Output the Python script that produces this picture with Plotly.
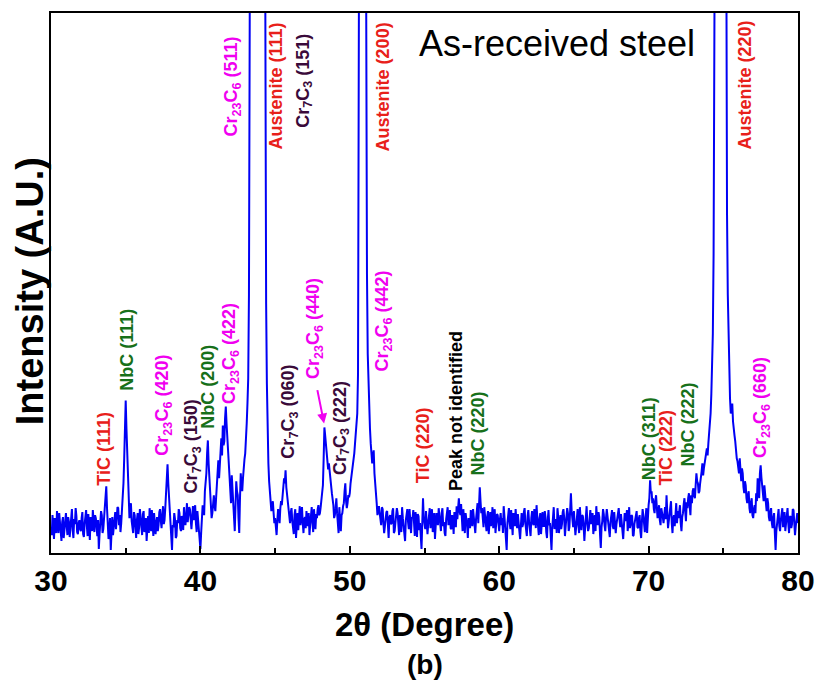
import plotly.graph_objects as go

# ---------------- data ----------------
two_theta_start = 30.0
two_theta_step = 0.05

# intensity in arbitrary units, one value per 0.05 degree (one row = one degree)
i_30_40 = [25, 18, 38, 27, 14, 35, 30, 20, 42, 29, 20, 40, 33, 22, 12, 31, 36, 15, 24, 39,
           40, 27, 18, 36, 31, 16, 26, 41, 44, 23, 15, 34, 29, 45, 37, 21, 19, 30, 33, 24,
           22, 35, 41, 19, 16, 29, 34, 43, 27, 17, 39, 26, 13, 36, 30, 22, 43, 31, 21, 38,
           35, 26, 17, 33, 4, 19, 28, 42, 38, 20, 24, 34, 40, 50, 67, 45, 30, 14, 22, 35,
           3, 25, 36, 18, 27, 39, 41, 24, 33, 46, 45, 28, 38, 21, 30, 40, 52, 70, 95, 130,
           153, 125, 98, 72, 58, 35, 44, 50, 32, 24, 20, 41, 38, 27, 15, 33, 40, 19, 26, 44,
           34, 25, 18, 39, 42, 21, 28, 35, 12, 30, 37, 20, 45, 32, 22, 43, 31, 17, 40, 29,
           19, 30, 36, 22, 28, 41, 44, 32, 25, 38, 47, 29, 33, 45, 62, 78, 89, 70, 55, 42,
           38, 20, 3, 28, 26, 40, 34, 15, 17, 33, 30, 44, 40, 25, 22, 37, 35, 23, 46, 31,
           28, 39, 50, 31, 36, 46, 44, 27, 24, 35, 47, 33, 38, 48, 30, 21, 42, 30, 22, 12]
i_40_50 = [4, 20, 33, 48, 45, 38, 62, 70, 80, 100, 113, 90, 72, 55, 48, 35, 40, 52, 58, 47,
           42, 55, 68, 82, 93, 75, 88, 105, 115, 98, 128, 108, 112, 135, 147, 130, 118, 100, 90, 72,
           66, 50, 78, 60, 45, 30, 22, 48, 72, 62, 58, 35, 20, 55, 80, 68, 62, 75, 88, 94,
           100, 112, 130, 150, 175, 260, 450, 800, 1200, 1800, 2500, 2800, 3000, 3000, 3000, 3000, 3000, 3000, 3000, 3000,
           3000, 3000, 3000, 3000, 3000, 1800, 800, 450, 250, 170, 120, 90, 72, 60, 55, 42, 48, 52, 40, 30,
           35, 26, 18, 33, 44, 38, 30, 45, 52, 48, 60, 68, 75, 70, 83, 66, 58, 50, 42, 36,
           30, 41, 45, 32, 25, 19, 38, 44, 15, 28, 40, 23, 33, 47, 28, 36, 46, 30, 20, 34,
           36, 25, 42, 31, 27, 40, 18, 29, 38, 46, 30, 21, 44, 35, 24, 39, 35, 44, 48, 38,
           40, 46, 52, 60, 68, 95, 126, 118, 110, 102, 98, 84, 90, 80, 72, 66, 60, 54, 48, 35,
           38, 45, 55, 40, 30, 20, 46, 34, 22, 38, 40, 47, 50, 62, 70, 52, 45, 50, 58, 56]
i_50_60 = [60, 70, 75, 82, 88, 94, 100, 110, 118, 128, 140, 180, 400, 800, 1500, 2500, 3000, 3000, 3000, 3000,
           1500, 800, 400, 280, 200, 165, 140, 125, 110, 96, 90, 98, 103, 80, 65, 58, 50, 38, 42, 47,
           40, 33, 28, 46, 44, 30, 20, 27, 35, 41, 42, 24, 15, 36, 38, 29, 30, 42, 45, 20,
           22, 30, 36, 45, 40, 25, 18, 38, 33, 21, 46, 35, 27, 19, 12, 33, 39, 44, 31, 24,
           44, 31, 20, 36, 35, 43, 28, 17, 41, 33, 16, 39, 37, 23, 30, 18, 4, 30, 55, 35,
           30, 24, 42, 33, 19, 29, 36, 45, 25, 38, 44, 21, 33, 40, 14, 27, 40, 32, 28, 45,
           37, 29, 22, 40, 45, 27, 31, 20, 17, 34, 39, 46, 28, 33, 43, 25, 24, 38, 35, 19,
           41, 33, 26, 47, 34, 45, 55, 42, 38, 49, 30, 22, 44, 31, 20, 40, 36, 28, 15, 35,
           32, 25, 43, 36, 27, 44, 38, 30, 20, 34, 45, 50, 30, 48, 66, 52, 40, 45, 34, 26,
           46, 35, 28, 22, 37, 42, 19, 31, 41, 27, 33, 46, 25, 36, 44, 20, 31, 39, 38, 29]
i_60_70 = [22, 34, 40, 28, 35, 20, 47, 37, 27, 15, 3, 30, 38, 45, 30, 24, 43, 33, 18, 40,
           36, 27, 44, 32, 25, 39, 33, 22, 14, 35, 40, 26, 29, 41, 45, 30, 21, 17, 37, 43,
           31, 23, 17, 35, 42, 30, 28, 44, 38, 25, 48, 36, 24, 18, 35, 40, 19, 33, 41, 27,
           27, 42, 36, 21, 15, 33, 43, 28, 30, 17, 3, 25, 39, 46, 24, 31, 34, 20, 45, 36,
           20, 30, 38, 24, 29, 41, 44, 35, 17, 27, 33, 45, 40, 22, 26, 38, 60, 42, 31, 26,
           42, 31, 18, 26, 35, 44, 28, 20, 46, 33, 23, 38, 37, 28, 12, 25, 40, 47, 30, 22,
           25, 36, 43, 29, 33, 40, 19, 27, 38, 22, 47, 34, 28, 41, 36, 18, 5, 26, 32, 44,
           39, 28, 22, 35, 44, 37, 30, 20, 16, 31, 36, 43, 27, 24, 41, 33, 20, 29, 34, 42,
           45, 34, 26, 39, 31, 21, 14, 28, 40, 32, 35, 43, 22, 30, 46, 25, 29, 38, 37, 17,
           18, 29, 33, 40, 42, 26, 25, 35, 38, 22, 15, 31, 44, 37, 30, 21, 36, 45, 20, 38]
i_70_80 = [48, 55, 73, 60, 62, 50, 55, 44, 40, 52, 58, 46, 35, 40, 48, 33, 28, 45, 42, 36,
           30, 38, 46, 34, 58, 41, 25, 32, 40, 47, 52, 30, 20, 35, 38, 27, 44, 50, 30, 42,
           35, 44, 48, 30, 22, 36, 40, 49, 55, 42, 32, 51, 45, 55, 60, 47, 38, 58, 50, 62,
           65, 58, 55, 68, 80, 72, 70, 60, 62, 70, 75, 82, 90, 78, 85, 92, 95, 100, 105, 98,
           110, 118, 126, 140, 160, 190, 220, 300, 450, 800, 1200, 2200, 3000, 3000, 3000, 3000, 3000, 3000, 3000, 3000,
           3000, 2200, 1200, 800, 450, 340, 260, 210, 175, 155, 140, 148, 150, 132, 120, 118, 112, 100, 95, 92,
           88, 80, 95, 78, 72, 85, 80, 66, 60, 72, 68, 55, 50, 58, 62, 45, 40, 50, 55, 38,
           35, 44, 48, 40, 60, 52, 75, 65, 55, 80, 88, 76, 70, 62, 52, 68, 60, 48, 42, 55,
           50, 36, 32, 41, 45, 30, 25, 35, 40, 20, 3, 22, 30, 38, 44, 27, 22, 33, 38, 45,
           26, 34, 41, 22, 33, 40, 45, 30, 20, 36, 37, 25, 29, 44, 43, 31, 18, 27, 35, 40]
i_80 = [30]

intensity = i_30_40 + i_40_50 + i_50_60 + i_60_70 + i_70_80 + i_80
two_theta = [round(two_theta_start + k * two_theta_step, 3) for k in range(len(intensity))]

x_ticks = [30, 40, 50, 60, 70, 80]

RED = "#e8201a"
MAG = "#f000f0"
GRN = "#17701a"
PUR = "#3a0a3a"
BLK = "#000000"

peak_labels = ["TiC (111)", "NbC (111)", "Cr<sub>23</sub>C<sub>6</sub> (420)",
               "Cr<sub>7</sub>C<sub>3</sub> (150)", "NbC (200)", "Cr<sub>23</sub>C<sub>6</sub> (422)",
               "Cr<sub>23</sub>C<sub>6</sub> (511)", "Austenite (111)", "Cr<sub>7</sub>C<sub>3</sub> (151)",
               "Austenite (200)", "Cr<sub>7</sub>C<sub>3</sub> (060)", "Cr<sub>23</sub>C<sub>6</sub> (440)",
               "Cr<sub>7</sub>C<sub>3</sub> (222)", "Cr<sub>23</sub>C<sub>6</sub> (442)", "TiC (220)",
               "Peak not identified", "NbC (220)", "NbC (311)", "TiC (222)", "NbC (222)",
               "Austenite (220)", "Cr<sub>23</sub>C<sub>6</sub> (660)"]
peak_colors = [RED, GRN, MAG, PUR, GRN, MAG, MAG, RED, PUR, RED, PUR, MAG,
               PUR, MAG, RED, BLK, GRN, GRN, RED, GRN, RED, MAG]
# label placement: (2theta of label centre, intensity at label start)
label_x = [33.58, 35.03, 37.55, 39.45, 40.53, 41.98, 42.18, 45.03, 46.95, 52.25, 45.95,
           47.6, 49.4, 52.25, 54.9, 57.09, 58.6, 70.0, 71.19, 72.65, 76.42, 77.6]
label_y = [66, 161, 96, 58, 123, 148, 416, 403, 425, 401, 93, 173, 76, 180, 68, 60, 76,
           71, 66, 85, 403, 93]

fig = go.Figure()
fig.add_trace(go.Scatter(x=two_theta, y=intensity, mode="lines",
                         line=dict(color="#0000f5", width=2), showlegend=False))

FONT = "Liberation Sans, Arial, sans-serif"
ann = []
for t, c, x, y in zip(peak_labels, peak_colors, label_x, label_y):
    ann.append(dict(x=x, y=y, xref="x", yref="y", text="<b>%s</b>" % t, textangle=-90,
                    showarrow=False, xanchor="center", yanchor="bottom",
                    font=dict(family=FONT, size=18, color=c)))
# arrow for Cr23C6 (440)
ann.append(dict(x=48.28, y=130, xref="x", yref="y", ax=47.81, ay=165, axref="x", ayref="y",
                text="", showarrow=True, arrowhead=2, arrowsize=1, arrowwidth=2, arrowcolor=MAG))
ann.append(dict(x=63.84, y=511, xref="x", yref="y", text="As-received steel", showarrow=False,
                xanchor="center", yanchor="middle", font=dict(family=FONT, size=36, color="black")))
ann.append(dict(x=-0.028, y=0.485, xref="paper", yref="paper", text="<b>Intensity (A.U.)</b>",
                textangle=-90, showarrow=False, xanchor="center", yanchor="middle",
                font=dict(family=FONT, size=38, color="black")))
ann.append(dict(x=0.5, y=-0.133, xref="paper", yref="paper", text="<b>2θ (Degree)</b>",
                showarrow=False, xanchor="center", yanchor="middle",
                font=dict(family=FONT, size=33, color="black")))
ann.append(dict(x=0.5, y=-0.207, xref="paper", yref="paper", text="<b>(b)</b>",
                showarrow=False, xanchor="center", yanchor="middle",
                font=dict(family=FONT, size=28, color="black")))

fig.update_layout(
    width=826, height=686,
    margin=dict(l=51, r=20, t=11, b=133),
    paper_bgcolor="white", plot_bgcolor="white",
    annotations=ann,
    xaxis=dict(range=[30, 80], tickvals=x_ticks, ticktext=["<b>%d</b>" % v for v in x_ticks],
               ticks="inside", ticklen=7, tickwidth=2, tickcolor="black",
               minor=dict(dtick=5, ticks="inside", ticklen=5, tickwidth=2, tickcolor="black"),
               showline=True, linecolor="black", linewidth=2, mirror=True,
               showgrid=False, zeroline=False,
               tickfont=dict(family=FONT, size=30, color="black")),
    yaxis=dict(range=[0, 542], showticklabels=False, ticks="", showline=True,
               linecolor="black", linewidth=2, mirror=True, showgrid=False, zeroline=False),
)

fig.write_html("out.html")
